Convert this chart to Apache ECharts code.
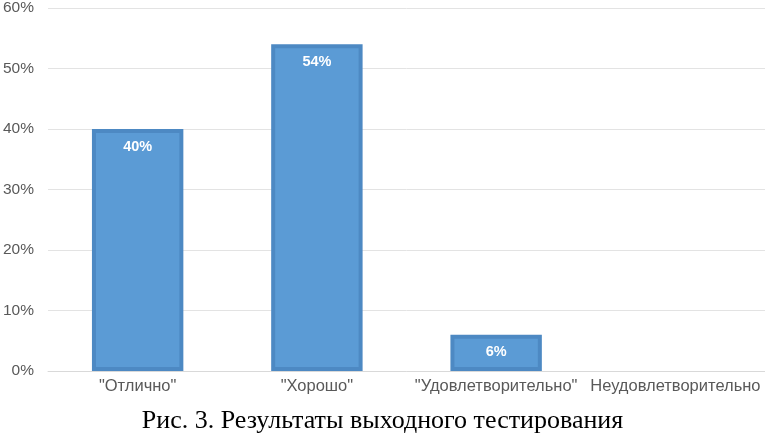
<!DOCTYPE html>
<html>
<head>
<meta charset="utf-8">
<script src="https://cdn.jsdelivr.net/npm/echarts@6/dist/echarts.min.js"></script>
<style>
    html, body { margin: 0; padding: 0; background: #fff; }
    #chart { width: 765px; height: 442px; }
</style>
</head>
<body>
<div id="chart"></div>
<script>
// categories and results, percent
var categories = ['"Отлично"', '"Хорошо"', '"Удовлетворительно"', 'Неудовлетворительно'];
var values = [40, 54, 6, 0];
var yTicks = [0, 10, 20, 30, 40, 50, 60];

var myChart = echarts.init(document.getElementById('chart'));

// zero bars get no border so nothing is drawn for them
var barData = values.map(function (v) {
    return v > 0 ? v : {value: v, itemStyle: {borderWidth: 0, opacity: 0}};
});

var option = {
    animation: false,
    title: {
        text: 'Рис. 3. Результаты выходного тестирования',
        left: 'center',
        bottom: 3,
        textStyle: {
            fontFamily: 'Liberation Serif',
            fontWeight: 'normal',
            fontSize: 26,
            color: '#000'
        }
    },
    grid: {
        left: 48,
        right: -1,
        top: 6,
        bottom: 71
    },
    xAxis: {
        type: 'category',
        data: categories,
        axisTick: {show: false},
        axisLine: {lineStyle: {color: '#d9d9d9', width: 1}},
        axisLabel: {
            interval: 0,
            margin: 7,
            color: '#595959',
            fontFamily: 'Liberation Sans',
            fontSize: 16.5
        }
    },
    yAxis: {
        type: 'value',
        min: yTicks[0],
        max: yTicks[yTicks.length - 1],
        interval: 10,
        axisLine: {show: false},
        axisTick: {show: false},
        splitLine: {lineStyle: {color: '#e3e3e3', width: 1}},
        axisLabel: {
            margin: 14,
            color: '#595959',
            fontFamily: 'Liberation Sans',
            fontSize: 15.5,
            formatter: '{value}%'
        }
    },
    series: [
        {
            type: 'bar',
            data: barData,
            barWidth: '51%',
            itemStyle: {
                color: '#5b9bd5',
                borderColor: '#4d89c3',
                borderWidth: 4
            },
            label: {
                show: true,
                position: 'insideTop',
                distance: 10,
                color: '#fff',
                fontWeight: 'bold',
                fontFamily: 'Liberation Sans',
                fontSize: 14.5,
                formatter: function (p) {
                    return p.value > 0 ? p.value + '%' : '';
                }
            }
        }
    ]
};

option && myChart.setOption(option);
</script>
</body>
</html>
